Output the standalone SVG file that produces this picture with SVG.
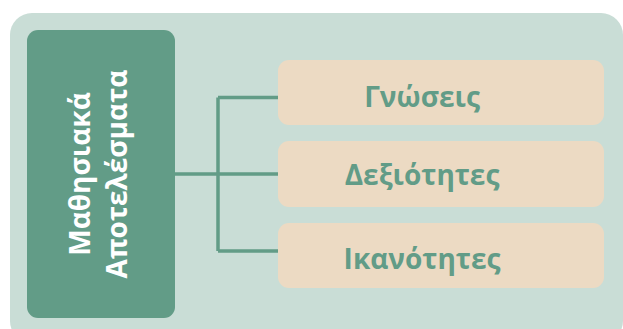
<svg xmlns="http://www.w3.org/2000/svg" width="623" height="329" viewBox="0 0 623 329">
<style>
.lbl{font-family:"Open Sans","Noto Sans","DejaVu Sans",sans-serif;font-weight:bold;}
.main{fill:#ffffff;font-size:28px;}
.item{fill:#629c87;font-size:28px;text-anchor:middle;}
.box{fill:#ecdac3;}
.conn{stroke:#629c87;stroke-width:3.5;fill:none;}
</style>
<rect x="10" y="13" width="613" height="330" rx="22" fill="#c9ddd6"/>
<g id="connectors">
<path class="conn" d="M175 174 H278 M218 97.5 V251 M218 97.5 H278 M218 251 H278"/>
</g>
<g id="root">
<rect x="27" y="30" width="148" height="288" rx="11" fill="#629c87"/>
<g transform="rotate(-90)">
<text class="lbl main" x="-174" y="90" text-anchor="middle">Μαθησιακά</text>
<text class="lbl main" x="-174" y="127" text-anchor="middle">Αποτελέσματα</text>
</g>
</g>
<g id="n1">
<rect class="box" x="278" y="60" width="326" height="65" rx="11"/>
<text class="lbl item" x="422" y="107">Γνώσεις</text>
</g>
<g id="n2">
<rect class="box" x="278" y="141" width="326" height="66" rx="11"/>
<text class="lbl item" x="422" y="185">Δεξιότητες</text>
</g>
<g id="n3">
<rect class="box" x="278" y="223" width="326" height="65" rx="11"/>
<text class="lbl item" x="422" y="269">Ικανότητες</text>
</g>
</svg>
